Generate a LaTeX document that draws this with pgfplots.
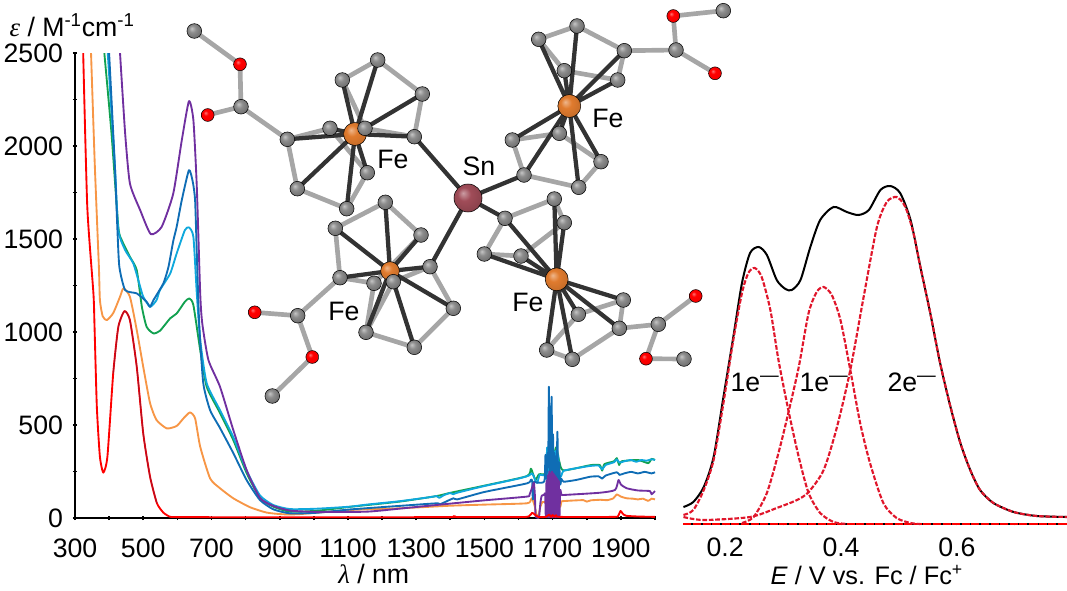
\documentclass[border=0pt]{standalone}
\usepackage{fontspec}
\setmainfont{Liberation Sans}
\newfontfamily\grk{Liberation Serif}
\usepackage{pgfplots}
\pgfplotsset{compat=1.18}
\definecolor{cred}{HTML}{FF0000}
\definecolor{cdkred}{HTML}{B01025}
\definecolor{corange}{HTML}{F79646}
\definecolor{cgreen}{HTML}{12A150}
\definecolor{ccyan}{HTML}{0FA8DC}
\definecolor{cblue}{HTML}{0F6DB5}
\definecolor{cpurple}{HTML}{7030A0}
\definecolor{cdash}{HTML}{E0162B}
\definecolor{bondgray}{HTML}{A6A6A6}
\definecolor{bonddark}{HTML}{333333}
\pgfdeclareradialshading{shC}{\pgfqpoint{-9bp}{9bp}}{color(0bp)=(white!55!gray); color(12bp)=(white!10!gray); color(26bp)=(black!55); color(40bp)=(black!68); color(50bp)=(black!75)}
\pgfdeclareradialshading{shO}{\pgfqpoint{-9bp}{9bp}}{color(0bp)=(red!55!white); color(10bp)=(red); color(30bp)=(red!95!black); color(42bp)=(red!70!black); color(50bp)=(red!50!black)}
\definecolor{fe}{HTML}{E07B2E}
\pgfdeclareradialshading{shFe}{\pgfqpoint{-9bp}{9bp}}{color(0bp)=(fe!55!white); color(12bp)=(fe); color(30bp)=(fe!88!black); color(42bp)=(fe!65!black); color(50bp)=(fe!45!black)}
\definecolor{sn}{HTML}{A04C58}
\pgfdeclareradialshading{shSn}{\pgfqpoint{-9bp}{9bp}}{color(0bp)=(sn!55!white); color(12bp)=(sn); color(30bp)=(sn!85!black); color(42bp)=(sn!65!black); color(50bp)=(sn!45!black)}
\pgfdeclareplotmark{ballC}{\shade[shading=shC] (0,0) circle (\pgfplotmarksize);}
\pgfdeclareplotmark{ballO}{\shade[shading=shO] (0,0) circle (\pgfplotmarksize);}
\pgfdeclareplotmark{ballFe}{\shade[shading=shFe] (0,0) circle (\pgfplotmarksize);}
\pgfdeclareplotmark{ballSn}{\shade[shading=shSn] (0,0) circle (\pgfplotmarksize);}
\newcommand{\bigfont}{\fontsize{20}{22}\selectfont}
\pgfplotsset{
  panel/.style={
    scale only axis, clip=false,
    tick label style={font=\bigfont},
    /pgf/number format/assume math mode=true,
    tick align=outside,
  },
}
\begin{document}
\begin{tikzpicture}
\useasboundingbox (0,0) rectangle (800.25pt,442.5pt);

% spectra
\begin{axis}[panel,
    at={(56.25pt,54pt)}, anchor=south west,
    width=435pt, height=348.6pt,
    xmin=300, xmax=2000, ymin=0, ymax=2500,
    axis lines=left,
    axis line style={-, line width=2.2pt},
    xtick={300,500,...,1900}, minor xtick={400,600,...,2000},
    ytick={0,500,...,2500}, minor ytick={250,750,...,2250},
    major tick length=3pt, minor tick length=3pt,
    tick style={black, line width=1.2pt},
    /pgf/number format/1000 sep={},
    x tick label style={yshift=-10.5pt},
    y tick label style={xshift=-4pt},
    every axis x label/.style={at={(axis description cs:0.515,-0.1205)},anchor=center,font=\bigfont},
    every axis y label/.style={at={(axis description cs:-0.005,1.061)},anchor=center,font=\bigfont},
    xlabel={{\grk\itshape λ} / nm},
    ylabel={{\grk\itshape ε} / M\textsuperscript{-1}cm\textsuperscript{-1}},
    every axis plot/.append style={line width=1.4pt, smooth, tension=0.35, mark=none, line join=round},
  ]
% orange
\addplot[corange] coordinates {(347,2500)(358,1900)(370,1351)(373,1172)(381,1086)(393,1064)(412,1102)(432,1190)(442,1235)(461,1190)(481,1011)(500,813)(520,618)(539,527)(569,482)(598,495)(618,536)(637,568)(652,536)(667,383)(696,213)(725,160)(764,106)(813,58)(862,29)(910,20)(958,21)(1106,43)(1250,52)(1399,66)(1500,72)(1624,79)(1636,98)(1640,106)(1648,60)(1652,20)(1658,10)(1664,60)(1670,86)(1680,88)(1686,150)(1690,40)(1694,160)(1698,30)(1702,170)(1706,40)(1710,150)(1714,30)(1718,140)(1722,60)(1726,90)(1732,91)(1760,94)(1790,96)(1800,88)(1812,95)(1840,98)(1860,96)(1878,106)(1888,127)(1900,115)(1917,106)(1935,104)(1950,100)(1965,104)(1980,92)(1990,104)(2000,100)};
% green
\addplot[cgreen] coordinates {(386,2500)(407,2069)(427,1566)(437,1495)(461,1405)(481,1333)(496,1136)(510,1028)(530,993)(549,1007)(579,1074)(598,1100)(622,1163)(635,1181)(647,1145)(667,903)(686,706)(725,565)(764,419)(803,242)(842,108)(881,61)(930,34)(1008,39)(1106,60)(1250,88)(1360,118)(1399,135)(1500,174)(1624,225)(1636,265)(1642,240)(1650,205)(1660,235)(1680,240)(1690,330)(1700,300)(1710,380)(1720,300)(1732,256)(1810,284)(1838,285)(1845,255)(1852,290)(1880,305)(1888,322)(1895,285)(1902,305)(1950,312)(1980,295)(1990,318)(2000,312)};
% cyan
\addplot[ccyan] coordinates {(396,2500)(417,1889)(427,1548)(447,1441)(471,1369)(491,1244)(500,1190)(520,1136)(539,1172)(549,1226)(579,1315)(598,1423)(622,1548)(634,1563)(647,1512)(657,1208)(667,957)(686,725)(725,580)(764,435)(803,255)(842,122)(881,70)(930,48)(1008,50)(1106,61)(1155,72)(1250,90)(1340,112)(1360,118)(1368,108)(1380,122)(1399,134)(1409,128)(1420,136)(1500,172)(1600,212)(1630,228)(1640,240)(1648,208)(1655,190)(1662,232)(1680,236)(1684,380)(1688,200)(1692,520)(1696,210)(1700,420)(1704,230)(1708,360)(1712,210)(1716,340)(1720,220)(1726,230)(1732,254)(1770,268)(1810,280)(1835,282)(1845,262)(1855,285)(1880,300)(1888,315)(1896,298)(1910,305)(1930,312)(1945,302)(1960,312)(1975,308)(1990,316)(2000,312)};
% blue
\addplot[cblue] coordinates {(400,2500)(417,1889)(424,1566)(430,1351)(447,1226)(481,1208)(510,1163)(520,1136)(530,1172)(559,1262)(574,1351)(588,1490)(598,1566)(613,1710)(634,1871)(645,1810)(652,1710)(657,1424)(664,1046)(676,725)(696,580)(725,484)(764,349)(803,204)(842,97)(881,47)(930,25)(1008,28)(1106,46)(1250,65)(1360,79)(1370,74)(1409,106)(1420,100)(1500,140)(1624,186)(1636,205)(1640,200)(1642,100)(1646,195)(1652,190)(1660,190)(1676,200)(1679,340)(1682,210)(1685,350)(1687,280)(1689,706)(1691,250)(1693,600)(1695,230)(1697,652)(1699,210)(1701,450)(1703,220)(1705,350)(1707,200)(1709,330)(1711,190)(1714,464)(1716,180)(1719,300)(1722,180)(1726,210)(1732,195)(1770,205)(1810,222)(1835,224)(1845,212)(1855,228)(1888,246)(1896,232)(1910,240)(1930,248)(1950,240)(1970,248)(1990,240)(2000,246)};
% purple
\addplot[cpurple] coordinates {(432,2500)(447,2068)(461,1799)(491,1656)(522,1527)(554,1566)(588,1745)(613,2032)(634,2242)(647,2140)(657,1781)(667,1208)(673,1047)(691,850)(725,706)(764,473)(803,258)(842,108)(881,65)(930,40)(1008,33)(1155,34)(1260,52)(1360,70)(1409,79)(1500,95)(1624,115)(1632,125)(1640,165)(1645,190)(1648,120)(1650,10)(1655,3)(1660,3)(1664,80)(1668,120)(1675,125)(1678,130)(1680,4)(1682,200)(1684,4)(1686,230)(1688,4)(1690,250)(1692,4)(1694,240)(1696,4)(1698,250)(1700,4)(1702,240)(1704,4)(1706,230)(1708,4)(1710,220)(1712,4)(1714,210)(1716,4)(1718,200)(1720,4)(1722,150)(1726,125)(1734,124)(1839,136)(1883,151)(1893,204)(1900,180)(1917,160)(1950,148)(1985,145)(1990,128)(2000,145)};
% red
\addplot[cred] coordinates {(324,2500)(336,1674)(354,1208)(357,1046)(364,598)(373,330)(383,244)(395,330)(412,778)(427,1028)(445,1113)(461,1064)(481,813)(500,455)(520,222)(540,80)(559,29)(578,7)(600,5)(800,4)(1100,4)(1400,5)(1410,10)(1420,5)(1600,5)(1630,8)(1640,28)(1650,15)(1660,5)(1680,6)(1690,18)(1695,6)(1700,16)(1705,6)(1710,15)(1720,6)(1880,6)(1892,12)(1899,38)(1905,24)(1915,12)(1950,8)(2000,6)};
\addplot[cdkred, line width=0.8pt] coordinates {(412,778)(427,1028)(445,1113)(461,1064)(481,813)(500,455)(520,222)(540,80)};
\end{axis}

% differential pulse voltammogram
\begin{axis}[panel,
    at={(512.6pt,49.5pt)}, anchor=south west,
    width=287.6pt, height=255pt,
    xmin=0.128, xmax=0.79, ymin=0, ymax=340,
    axis x line=bottom, axis y line=none,
    axis line style={-},
    xtick={0.2,0.4,0.6}, minor xtick={0.3,0.5,0.7},
    major tick length=2pt, minor tick length=2pt,
    tick style={black, line width=0.8pt},
    x tick label style={/pgf/number format/fixed, /pgf/number format/precision=1, yshift=-6pt},
    every axis x label/.style={at={(axis description cs:0.478,-0.15)},anchor=center,font=\fontsize{19}{22}\selectfont},
    xlabel={\textit{E} / V vs. Fc / Fc\textsuperscript{+}},
    every axis plot/.append style={smooth, tension=0.45, mark=none},
  ]
\addplot[black, line width=1.5pt] coordinates {(.128,17)(.145,22)(.163,37)(.180,67)(.197,127)(.214,187)(.229,241)(.243,271)(.258,277)(.272,269)(.289,244)(.304,235)(.315,234)(.330,244)(.347,277)(.364,304)(.387,317)(.410,312)(.430,309)(.448,314)(.468,334)(.485,338)(.502,331)(.520,304)(.537,257)(.554,211)(.571,161)(.589,117)(.606,81)(.623,54)(.640,34)(.663,21)(.698,12)(.738,8)(.790,7)};
\addplot[black, line width=1.8pt] coordinates {(.128,0)(.79,0)};
\addplot[cred, line width=1.8pt, dash pattern=on 6pt off 1.2pt] coordinates {(.128,0)(.79,0)};
\addplot[cdash, line width=1.6pt, dash pattern=on 3.5pt off 1.3pt] coordinates {(.128,9)(.145,14)(.163,34)(.180,64)(.197,121)(.214,184)(.229,231)(.240,251)(.251,256)(.263,247)(.278,214)(.292,164)(.309,114)(.327,67)(.344,31)(.364,11)(.387,2)(.410,0)};
\addplot[cdash, line width=1.6pt, dash pattern=on 3.5pt off 1.3pt] coordinates {(.229,1)(.249,7)(.272,31)(.292,71)(.309,111)(.327,157)(.344,211)(.358,232)(.370,237)(.384,229)(.399,204)(.416,154)(.433,101)(.450,61)(.473,21)(.496,6)(.520,1)(.537,0)};
\addplot[cdash, line width=1.6pt, dash pattern=on 3.5pt off 1.3pt] coordinates {(.128,7)(.163,4)(.243,7)(.289,16)(.324,24)(.344,32)(.370,54)(.393,97)(.416,154)(.439,227)(.462,297)(.479,322)(.496,327)(.511,317)(.525,291)(.537,257)(.554,211)(.571,161)(.589,117)(.606,81)(.623,54)(.640,34)(.663,21)(.698,12)(.738,8)(.790,7)};
\end{axis}

% molecule and labels, in picture pixels
\begin{axis}[
    at={(0pt,0pt)}, anchor=south west,
    scale only axis, width=800.25pt, height=442.5pt,
    xmin=0, xmax=1067, ymin=0, ymax=590, y dir=reverse,
    hide axis, clip=false,
    every axis plot/.append style={line join=round, line cap=round},
  ]
% ring and ester bonds
\addplot[bondgray, line width=3.5pt] coordinates {(194.3,31)(240,64.3)(241,106.7)(207.7,115)(241,106.7)(287.3,139.3)(297.3,188.7)(346.7,208.7)(367.3,172.7)(330,128.3)(287.3,139.3)};
\addplot[bondgray, line width=3.5pt] coordinates {(342.3,80)(377.7,60)(422.3,94)(414.3,136.7)(365,128.3)(342.3,80)};
\addplot[bondgray, line width=3.5pt] coordinates {(723.3,10.7)(673.3,16)(676,50)(715,73.3)(676,50)(624.3,50.7)(617.7,80)(564.3,70.7)(538.7,39.3)(577,26)(624.3,50.7)};
\addplot[bondgray, line width=3.5pt] coordinates {(524,175)(512.3,140)(559.3,133.3)(601,161.7)(578.7,187.3)(524,175)};
\addplot[bondgray, line width=3.5pt] coordinates {(272.3,396)(312.3,357)(297.7,315.7)(254.7,312.3)(297.7,315.7)(340,277.7)(335.3,228.3)(385.3,202.3)(421,235)(374,283.3)(340,277.7)};
\addplot[bondgray, line width=3.5pt] coordinates {(430,266.7)(453.3,308.3)(414.3,347.3)(366,332.3)(393.3,281.7)(430,266.7)};
\addplot[bondgray, line width=3.5pt] coordinates {(366,332.3)(374,283.3)};
\addplot[bondgray, line width=3.5pt] coordinates {(505,218.3)(554.3,199)(564.3,222.7)(521,256)(484.3,254)(505,218.3)};
\addplot[bondgray, line width=3.5pt] coordinates {(684,359)(646,358.7)(658.3,324.3)(695.7,296)(658.3,324.3)(619.3,328.3)(623.3,300)(578.3,314.3)(546.7,350)(572.3,359.3)(619.3,328.3)};
% metal to ring bonds
\addplot[bonddark, line width=3.2pt] coordinates {(355,134)(287.3,139.3)(355,134)(297.3,188.7)(355,134)(346.7,208.7)(355,134)(367.3,172.7)(355,134)(330,128.3)(355,134)(365,128.3)(355,134)(414.3,136.7)(355,134)(422.3,94)(355,134)(377.7,60)(355,134)(342.3,80)};
\addplot[bonddark, line width=3.2pt] coordinates {(569.3,106)(624.3,50.7)(569.3,106)(617.7,80)(569.3,106)(564.3,70.7)(569.3,106)(538.7,39.3)(569.3,106)(577,26)(569.3,106)(524,175)(569.3,106)(512.3,140)(569.3,106)(559.3,133.3)(569.3,106)(601,161.7)(569.3,106)(578.7,187.3)};
\addplot[bonddark, line width=3.2pt] coordinates {(390,271)(340,277.7)(390,271)(335.3,228.3)(390,271)(385.3,202.3)(390,271)(421,235)(390,271)(430,266.7)(390,271)(453.3,308.3)(390,271)(414.3,347.3)(390,271)(366,332.3)};
\addplot[bonddark, line width=3.2pt] coordinates {(556.7,279.3)(505,218.3)(556.7,279.3)(554.3,199)(556.7,279.3)(564.3,222.7)(556.7,279.3)(521,256)(556.7,279.3)(484.3,254)(556.7,279.3)(619.3,328.3)(556.7,279.3)(623.3,300)(556.7,279.3)(578.3,314.3)(556.7,279.3)(546.7,350)(556.7,279.3)(572.3,359.3)};
\addplot[bonddark, line width=3.2pt] coordinates {(414.3,136.7)(468,198)(524,175)(468,198)(430,266.7)(468,198)(505,218.3)};
% atoms
\addplot[only marks, mark=ballFe, mark size=8.6pt] coordinates {(355,134)(569.3,106)(556.7,279.3)};
\addplot[only marks, mark=ballFe, mark size=7pt] coordinates {(390,271)};
\addplot[only marks, mark=ballSn, mark size=10.5pt] coordinates {(468,198)};
\addplot[only marks, mark=ballC, mark size=5.5pt] coordinates {(194.3,31)(241,106.7)(287.3,139.3)(297.3,188.7)(346.7,208.7)(367.3,172.7)(330,128.3)(365,128.3)(414.3,136.7)(422.3,94)(377.7,60)(342.3,80)(723.3,10.7)(676,50)(624.3,50.7)(617.7,80)(564.3,70.7)(538.7,39.3)(577,26)(524,175)(512.3,140)(559.3,133.3)(601,161.7)(578.7,187.3)(272.3,396)(297.7,315.7)(340,277.7)(335.3,228.3)(385.3,202.3)(421,235)(374,283.3)(430,266.7)(453.3,308.3)(414.3,347.3)(366,332.3)(393.3,281.7)(505,218.3)(554.3,199)(564.3,222.7)(521,256)(484.3,254)(619.3,328.3)(623.3,300)(578.3,314.3)(546.7,350)(572.3,359.3)(658.3,324.3)(684,359)};
\addplot[only marks, mark=ballO, mark size=4.8pt] coordinates {(240,64.3)(207.7,115)(673.3,16)(715,73.3)(312.3,357)(254.7,312.3)(646,358.7)(695.7,296)};
\node[font=\bigfont] at (axis cs:393,159) {Fe};
\node[font=\bigfont] at (axis cs:479,166) {Sn};
\node[font=\bigfont] at (axis cs:608,118) {Fe};
\node[font=\bigfont] at (axis cs:344,311) {Fe};
\node[font=\bigfont] at (axis cs:528,302) {Fe};
\node[font=\bigfont] at (axis cs:755,382) {1e\textsuperscript{—}};
\node[font=\bigfont] at (axis cs:824,382) {1e\textsuperscript{—}};
\node[font=\bigfont] at (axis cs:912,382) {2e\textsuperscript{—}};
\end{axis}
\end{tikzpicture}
\end{document}
